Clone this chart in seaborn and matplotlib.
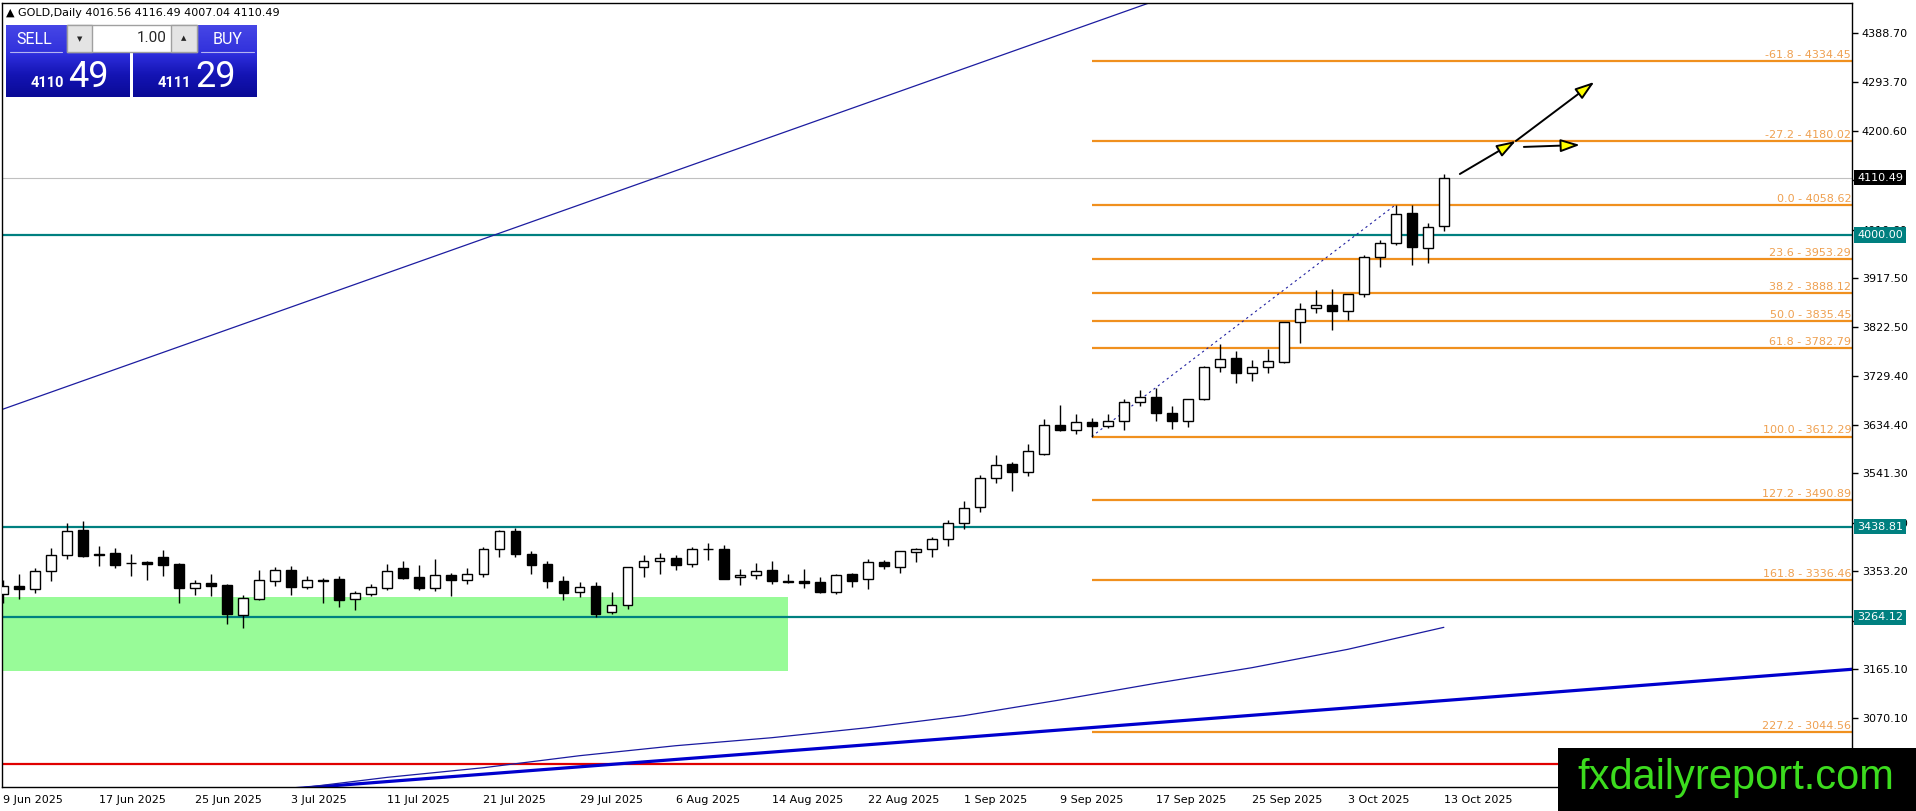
import numpy as np
import pandas as pd
import matplotlib
matplotlib.use("Agg")
import matplotlib.pyplot as plt
import seaborn as sns
from matplotlib.patches import Rectangle
from matplotlib.colors import LinearSegmentedColormap

# GOLD daily candles, bar 0 = 9 Jun 2025 ... bar 90 = 13 Oct 2025
opens = [3308.7, 3324.1, 3319.6, 3352.9, 3383.7, 3432.5, 3386.9, 3388.2, 3369.5, 3370.2,
         3380.5, 3367.7, 3321.5, 3330.5, 3326.6, 3269.6, 3299.7, 3335.0, 3355.5, 3323.4,
         3335.6, 3338.2, 3299.1, 3310.0, 3320.9, 3358.7, 3341.4, 3321.5, 3345.2, 3336.9,
         3347.2, 3395.3, 3429.9, 3386.3, 3367.0, 3334.4, 3312.5, 3324.1, 3274.1, 3287.5,
         3360.6, 3372.2, 3377.9, 3366.4, 3395.0, 3395.3, 3341.4, 3345.2, 3355.5, 3333.1,
         3334.3, 3331.8, 3313.8, 3347.2, 3337.5, 3370.3, 3361.9, 3390.8, 3395.3, 3414.5,
         3446.6, 3476.1, 3531.9, 3558.8, 3543.4, 3578.0, 3633.8, 3624.2, 3640.2, 3631.9,
         3641.5, 3678.1, 3688.5, 3658.2, 3642.8, 3683.8, 3745.4, 3762.7, 3733.9, 3746.7,
         3756.3, 3832.0, 3858.9, 3864.7, 3854.4, 3885.9, 3958.3, 3984.0, 4041.7, 3974.4,
         4016.56]
highs = [3336.3, 3347.8, 3359.3, 3397.8, 3446.6, 3450.4, 3401.7, 3397.2, 3386.3, 3373.5,
         3394.0, 3369.6, 3336.3, 3347.8, 3328.0, 3307.4, 3355.5, 3361.9, 3363.2, 3344.0,
         3339.5, 3344.0, 3315.8, 3327.9, 3367.0, 3372.8, 3364.5, 3376.6, 3349.1, 3358.7,
         3400.4, 3432.5, 3436.3, 3392.1, 3372.8, 3344.0, 3331.8, 3332.4, 3313.2, 3361.9,
         3384.4, 3387.6, 3384.4, 3400.4, 3406.8, 3403.6, 3356.8, 3368.9, 3372.8, 3347.2,
         3356.8, 3342.7, 3347.2, 3349.1, 3376.0, 3374.7, 3392.0, 3397.2, 3419.6, 3451.1,
         3487.6, 3538.3, 3576.7, 3562.6, 3597.9, 3646.0, 3672.9, 3655.6, 3647.9, 3655.6,
         3684.5, 3701.8, 3705.1, 3671.0, 3684.5, 3748.0, 3789.7, 3777.5, 3759.5, 3780.0,
         3833.5, 3869.8, 3894.2, 3896.1, 3887.0, 3961.5, 3990.4, 4058.6, 4057.5, 4022.5,
         4116.49]
lows = [3291.4, 3299.1, 3311.9, 3335.0, 3377.3, 3379.9, 3363.8, 3360.0, 3344.0, 3336.3,
        3344.0, 3292.7, 3307.4, 3305.5, 3251.6, 3244.6, 3297.8, 3324.7, 3307.4, 3318.3,
        3292.7, 3284.9, 3278.6, 3306.1, 3317.0, 3337.5, 3317.0, 3315.7, 3305.5, 3329.2,
        3342.7, 3381.2, 3379.9, 3347.8, 3320.9, 3298.4, 3304.2, 3264.4, 3271.5, 3279.8,
        3342.7, 3347.2, 3356.2, 3361.9, 3374.7, 3337.5, 3326.6, 3338.8, 3327.9, 3329.8,
        3320.2, 3310.6, 3308.7, 3322.2, 3318.3, 3356.8, 3349.1, 3371.5, 3381.2, 3402.3,
        3435.0, 3467.7, 3523.5, 3508.1, 3537.0, 3577.0, 3623.0, 3617.8, 3612.3, 3628.1,
        3624.8, 3671.0, 3642.8, 3626.1, 3630.0, 3682.0, 3735.8, 3715.9, 3719.8, 3733.9,
        3754.4, 3791.6, 3850.6, 3817.2, 3836.5, 3881.4, 3939.1, 3981.4, 3942.3, 3945.5,
        4007.04]
closes = [3324.7, 3319.6, 3353.6, 3384.4, 3429.9, 3383.1, 3383.7, 3365.8, 3368.9, 3366.4,
          3365.1, 3320.9, 3330.5, 3324.7, 3271.5, 3301.0, 3336.3, 3355.5, 3322.8, 3336.3,
          3335.0, 3297.8, 3310.6, 3322.2, 3353.6, 3340.1, 3320.9, 3345.2, 3336.9, 3347.2,
          3395.3, 3429.9, 3385.6, 3365.8, 3335.0, 3311.9, 3323.4, 3271.5, 3287.5, 3360.6,
          3372.2, 3377.9, 3365.8, 3395.3, 3395.6, 3338.8, 3345.2, 3353.6, 3333.7, 3333.6,
          3329.8, 3313.8, 3345.2, 3335.0, 3370.3, 3363.8, 3391.4, 3395.3, 3414.5, 3445.3,
          3474.1, 3531.9, 3556.9, 3543.4, 3583.8, 3633.8, 3624.2, 3639.6, 3631.9, 3641.5,
          3678.1, 3687.7, 3658.5, 3642.8, 3683.8, 3745.4, 3762.1, 3733.9, 3746.7, 3758.2,
          3832.0, 3857.0, 3864.7, 3854.4, 3885.9, 3958.3, 3984.0, 4039.8, 3976.3, 4016.0,
          4110.49]

tick_bars = [0, 6, 12, 18, 24, 30, 36, 42, 48, 54, 60, 66, 72, 78, 84, 90]
tick_labels = ["9 Jun 2025", "17 Jun 2025", "25 Jun 2025", "3 Jul 2025", "11 Jul 2025",
               "21 Jul 2025", "29 Jul 2025", "6 Aug 2025", "14 Aug 2025", "22 Aug 2025",
               "1 Sep 2025", "9 Sep 2025", "17 Sep 2025", "25 Sep 2025", "3 Oct 2025",
               "13 Oct 2025"]
price_ticks = [4388.70, 4293.70, 4200.60, 4105.60, 4010.60, 3917.50, 3822.50, 3729.40,
               3634.40, 3541.30, 3446.30, 3353.20, 3258.20, 3165.10, 3070.10, 2975.10]
# scale labels fully covered by the price boxes / watermark are not shown
hidden_ticks = [4105.60, 3258.20, 2975.10]

# fibonacci from swing low (bar 68) to swing high (bar 87)
fib_ratios = ["-61.8", "-27.2", "0.0", "23.6", "38.2", "50.0", "61.8", "100.0", "127.2",
              "161.8", "227.2"]
fib_prices = [4334.45, 4180.02, 4058.62, 3953.29, 3888.12, 3835.45, 3782.79, 3612.29,
              3490.89, 3336.46, 3044.56]
fib_bars = [68, 87]

sr_levels = [4000.00, 3438.81, 3264.12]
red_level = 2982.0
bid_price = 4110.49
ask_price = 4111.29

# thin blue moving average
ma_bars = [18, 24, 30, 36, 42, 48, 54, 60, 66, 72, 78, 84, 90]
ma_values = [2934.0, 2956.6, 2975.1, 2998.2, 3017.4, 3032.8, 3052.1, 3075.2, 3105.4,
             3137.5, 3167.5, 3202.9, 3245.2]

upper_trend_bars = [-0.2, 72.0]
upper_trend_prices = [3663.0, 4451.0]
lower_trend_bars = [0.0, 115.5]
lower_trend_prices = [2891.8, 3164.5]

zone_bars = [-5, 49]
zone_prices = [3161.8, 3303.5]

arrow_up = [(91.0, 4117.4), (94.5, 4181.0), (99.4, 4294.5)]
arrow_flat = [(95.0, 4169.5), (98.5, 4173.3)]

sns.set_style("white")
plt.rcParams['font.family'] = ['DejaVu Sans']

W, H = 1916, 811
fig = plt.figure(figsize=(W / 100, H / 100), dpi=100)
fig.patch.set_facecolor('white')
ax = fig.add_axes([2 / W, (H - 787) / H, (1852 - 2) / W, (787 - 3) / H])
ax.set_facecolor('white')
ax.set_xlim(-0.08, 115.5)
ax.set_ylim(2938.0, 4446.4)

# demand zone
ax.add_patch(Rectangle((zone_bars[0], zone_prices[0]), zone_bars[1] - zone_bars[0],
                       zone_prices[1] - zone_prices[0], facecolor='#98FB98',
                       edgecolor='none', zorder=1))

# horizontal levels
ax.axhline(red_level, color='#E00000', lw=1.6, zorder=2)
for lv in sr_levels:
    ax.axhline(lv, color='#008080', lw=1.6, zorder=2)
ax.axhline(bid_price, color='#C0C0C0', lw=0.8, zorder=2)

# trend lines and MA
ax.plot(upper_trend_bars, upper_trend_prices, color='#1C1CA0', lw=0.9, zorder=2)
ax.plot(lower_trend_bars, lower_trend_prices, color='#0000CD', lw=2.3, zorder=2)
sns.lineplot(x=ma_bars, y=ma_values, ax=ax, color='#1A1AA0', lw=0.9, zorder=2)

# fibonacci
ax.hlines(fib_prices, fib_bars[0], 115.5, color='#F0901E', lw=1.6, zorder=2)
for r, p in zip(fib_ratios, fib_prices):
    ax.text(115.45, p + 2, f"{r} - {p:.2f}", ha='right', va='bottom', fontsize=8,
            color='#EFA050', zorder=3)
ax.plot(fib_bars, [fib_prices[7], fib_prices[2]], color='#2020A0', lw=0.8,
        ls=(0, (2, 3)), zorder=4)

# candles
df = pd.DataFrame({'bar': np.arange(len(opens)), 'open': opens, 'high': highs,
                   'low': lows, 'close': closes})
bull = df['close'] >= df['open']
ax.vlines(df['bar'], df['low'], df['high'], color='black', lw=1.0, zorder=5)
ax.bar(df['bar'], (df['close'] - df['open']).abs().clip(lower=0.3),
       bottom=np.minimum(df['open'], df['close']), width=0.62,
       color=np.where(bull, 'white', 'black'), edgecolor='black', lw=1.0, zorder=6)

# arrows
arrow_kw = dict(arrowstyle='-|>,head_length=0.9,head_width=0.3', mutation_scale=13,
                fc='yellow', ec='black', lw=1.4, shrinkA=0, shrinkB=0)
for a, b in zip(arrow_up[:-1], arrow_up[1:]):
    ax.annotate('', xy=b, xytext=a, arrowprops=arrow_kw, zorder=7)
ax.annotate('', xy=arrow_flat[1], xytext=arrow_flat[0], arrowprops=arrow_kw, zorder=7)

# axes styling
for s in ax.spines.values():
    s.set_color('black')
    s.set_linewidth(1.0)
ax.yaxis.tick_right()
ax.set_yticks(price_ticks)
ax.set_yticklabels(["" if v in hidden_ticks else f"{v:.2f}" for v in price_ticks])
ax.set_xticks(tick_bars)
ax.set_xticklabels(tick_labels, ha='left')
ax.tick_params(axis='both', direction='out', length=4, width=1, labelsize=8,
               colors='black', pad=2)
ax.tick_params(axis='y', pad=3)

# price boxes on the right scale
for lv in sr_levels:
    ax.annotate(f"{lv:.2f}", xy=(1, lv), xycoords=('axes fraction', 'data'),
                xytext=(5, 0), textcoords='offset pixels', ha='left', va='center',
                fontsize=8, color='white', zorder=20, annotation_clip=False,
                bbox=dict(boxstyle='square,pad=0.25', fc='#008080', ec='none'))
ax.annotate(f"{bid_price:.2f}", xy=(1, bid_price), xycoords=('axes fraction', 'data'),
            xytext=(5, 0), textcoords='offset pixels', ha='left', va='center',
            fontsize=8, color='white', zorder=20, annotation_clip=False,
            bbox=dict(boxstyle='square,pad=0.25', fc='black', ec='none'))

# overlay in pixel coordinates: header, trade panel, watermark
ov = fig.add_axes([0, 0, 1, 1], zorder=10)
ov.set_xlim(0, W)
ov.set_ylim(H, 0)
ov.axis('off')
ov.patch.set_alpha(0)

ov.text(6, 13, f"\u25B2 GOLD,Daily {opens[-1]:.2f} {highs[-1]:.2f} {lows[-1]:.2f} "
        f"{closes[-1]:.2f}", fontsize=8, va='center', ha='left', color='black')

grad = np.linspace(0, 1, 64).reshape(-1, 1)
btn_cmap = LinearSegmentedColormap.from_list('btn', ['#4646E6', '#3232DC'])
box_cmap = LinearSegmentedColormap.from_list('box', ['#3030E0', '#1414B4', '#0A0A96'])
for x0, x1 in [(6, 130), (133, 257)]:
    ov.imshow(grad, extent=(x0, x1, 52, 25), cmap=btn_cmap, aspect='auto', zorder=1)
    ov.imshow(grad, extent=(x0, x1, 97, 52), cmap=box_cmap, aspect='auto', zorder=1)
ov.plot([10, 62], [52, 52], color='#B4B4F0', lw=0.8, zorder=2)
ov.plot([201, 254], [52, 52], color='#B4B4F0', lw=0.8, zorder=2)
# lot control
ov.add_patch(Rectangle((67, 25), 130, 27, facecolor='white', edgecolor='#A0A0A0',
                       lw=1, zorder=3))
ov.add_patch(Rectangle((67, 25), 25, 27, facecolor='#E4E4E4', edgecolor='#A0A0A0',
                       lw=1, zorder=4))
ov.add_patch(Rectangle((171, 25), 26, 27, facecolor='#E4E4E4', edgecolor='#A0A0A0',
                       lw=1, zorder=4))
ov.text(79.5, 39, "\u25BC", fontsize=5, ha='center', va='center', zorder=5)
ov.text(184, 38, "\u25B2", fontsize=5, ha='center', va='center', zorder=5)
ov.text(167, 38, "1.00", fontsize=11, ha='right', va='center', family='Roboto', zorder=5)
ov.text(34, 39, "SELL", fontsize=11.5, color='white', ha='center', va='center',
        family='Roboto', zorder=5)
ov.text(228, 39, "BUY", fontsize=11.5, color='white', ha='center', va='center',
        family='Roboto', zorder=5)
bid_s, ask_s = f"{bid_price:.2f}", f"{ask_price:.2f}"
ov.text(64, 87, bid_s[:4], fontsize=10.5, weight='bold', color='white', ha='right',
        va='baseline', family='Roboto', zorder=5)
ov.text(68, 87, bid_s[5:], fontsize=26, color='white', ha='left', va='baseline',
        family='Roboto', zorder=5)
ov.text(191, 87, ask_s[:4], fontsize=10.5, weight='bold', color='white', ha='right',
        va='baseline', family='Roboto', zorder=5)
ov.text(195, 87, ask_s[5:], fontsize=26, color='white', ha='left', va='baseline',
        family='Roboto', zorder=5)

ov.add_patch(Rectangle((1558, 748), W - 1558, H - 748, facecolor='black',
                       edgecolor='none', zorder=6))
ov.text(1736, 789, "fxdailyreport.com", fontsize=30, color='#3CDC1E', ha='center',
        va='baseline', family='Liberation Sans', zorder=7)

fig.savefig('out.png', dpi=100, facecolor='white')
